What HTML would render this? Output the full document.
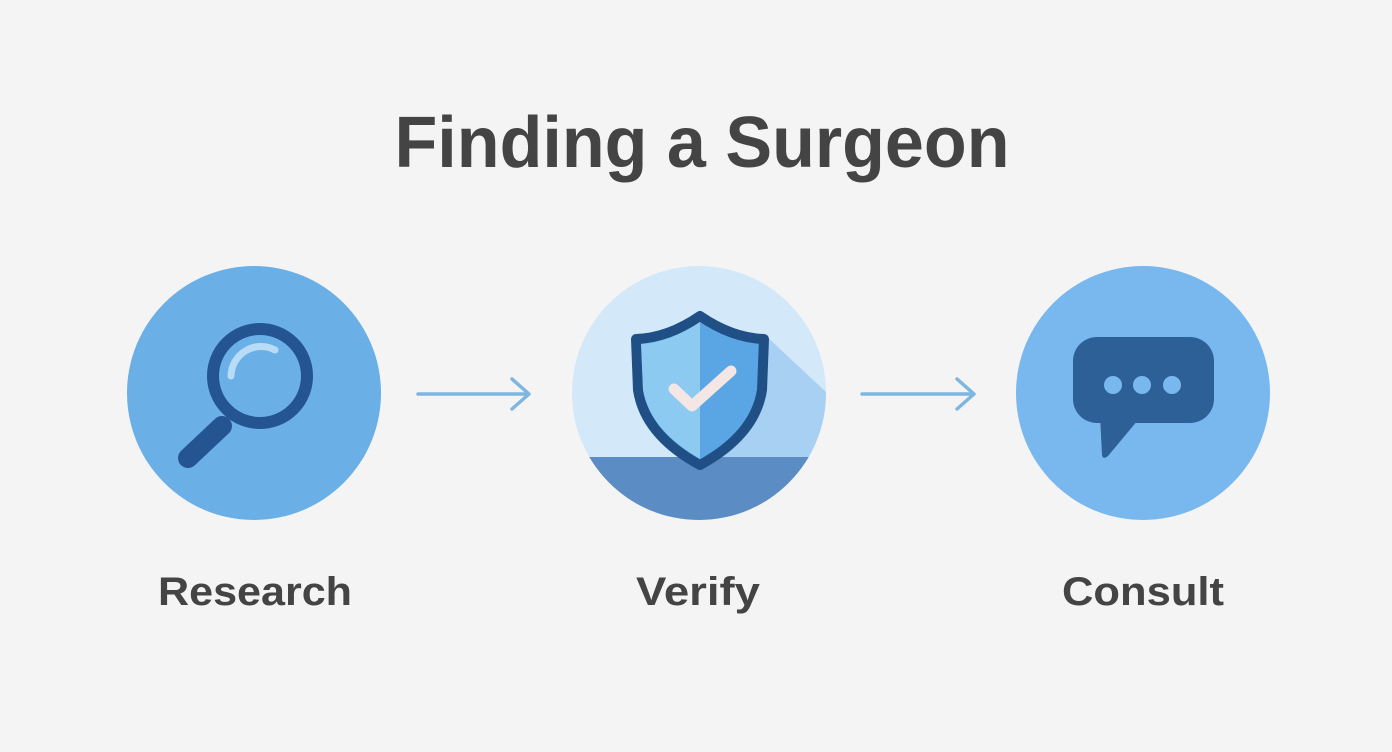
<!DOCTYPE html>
<html><head><meta charset="utf-8"><style>
html,body{margin:0;padding:0;background:#f4f4f4;}
svg{display:block;}
text{font-family:"Liberation Sans",sans-serif;font-weight:bold;fill:#444;}
</style></head><body>
<svg width="1392" height="752" viewBox="0 0 1392 752">
<rect width="1392" height="752" fill="#f4f4f4"/>
<text x="702" y="167" font-size="72" text-anchor="middle" textLength="615" lengthAdjust="spacingAndGlyphs">Finding a Surgeon</text>

<!-- Research -->
<circle cx="254" cy="393" r="127" fill="#6aafe6"/>
<line x1="188" y1="458" x2="222" y2="426" stroke="#245590" stroke-width="20" stroke-linecap="round"/>
<circle cx="260" cy="376" r="47" fill="#6aafe6" stroke="#245590" stroke-width="12"/>
<path d="M231 376 A30 30 0 0 1 275 350" fill="none" stroke="#b8dcf6" stroke-width="7" stroke-linecap="round"/>

<!-- arrows -->
<g stroke="#7fb6e0" stroke-width="3.5" fill="none" stroke-linecap="round" stroke-linejoin="round">
<line x1="418" y1="394" x2="528" y2="394"/><polyline points="512,379 529,394 512,409"/>
<line x1="862" y1="394" x2="973" y2="394"/><polyline points="957,379 974,394 957,409"/>
</g>

<!-- Verify -->
<defs><clipPath id="c2"><circle cx="699" cy="393" r="127"/></clipPath></defs>
<circle cx="699" cy="393" r="127" fill="#d3e8f8"/>
<g clip-path="url(#c2)">
<polygon points="765,335 840,405 840,457 700,457" fill="#a8d0f2"/>
<rect x="560" y="457" width="280" height="80" fill="#5b8cc4"/>
</g>
<path d="M700 316 Q668 338 636 339 L638 390 Q645 435 700 465 Q755 435 762 390 L764 339 Q732 338 700 316Z" fill="#5aa6e4" stroke="#204f86" stroke-width="10" stroke-linejoin="round"/>
<path d="M700 322 Q670 342 641 344 L643 390 Q650 430 700 459Z" fill="#8ccaf1"/>
<polyline points="674,389 692,406 731,371" fill="none" stroke="#f3e6e4" stroke-width="11" stroke-linecap="round" stroke-linejoin="round"/>

<!-- Consult -->
<circle cx="1143" cy="393" r="127" fill="#78b8ee"/>
<rect x="1073" y="337" width="141" height="86" rx="24" fill="#2e6098"/>
<path d="M1100 415 L1102 455 Q1103 460 1108 456 L1138 420Z" fill="#2e6098"/>
<circle cx="1113" cy="385" r="9" fill="#78b8ee"/>
<circle cx="1142" cy="385" r="9" fill="#78b8ee"/>
<circle cx="1172" cy="385" r="9" fill="#78b8ee"/>

<text x="255" y="605" font-size="40" text-anchor="middle" textLength="194" lengthAdjust="spacingAndGlyphs">Research</text>
<text x="698" y="605" font-size="40" text-anchor="middle" textLength="124" lengthAdjust="spacingAndGlyphs">Verify</text>
<text x="1143" y="605" font-size="40" text-anchor="middle" textLength="162" lengthAdjust="spacingAndGlyphs">Consult</text>
</svg>
</body></html>
